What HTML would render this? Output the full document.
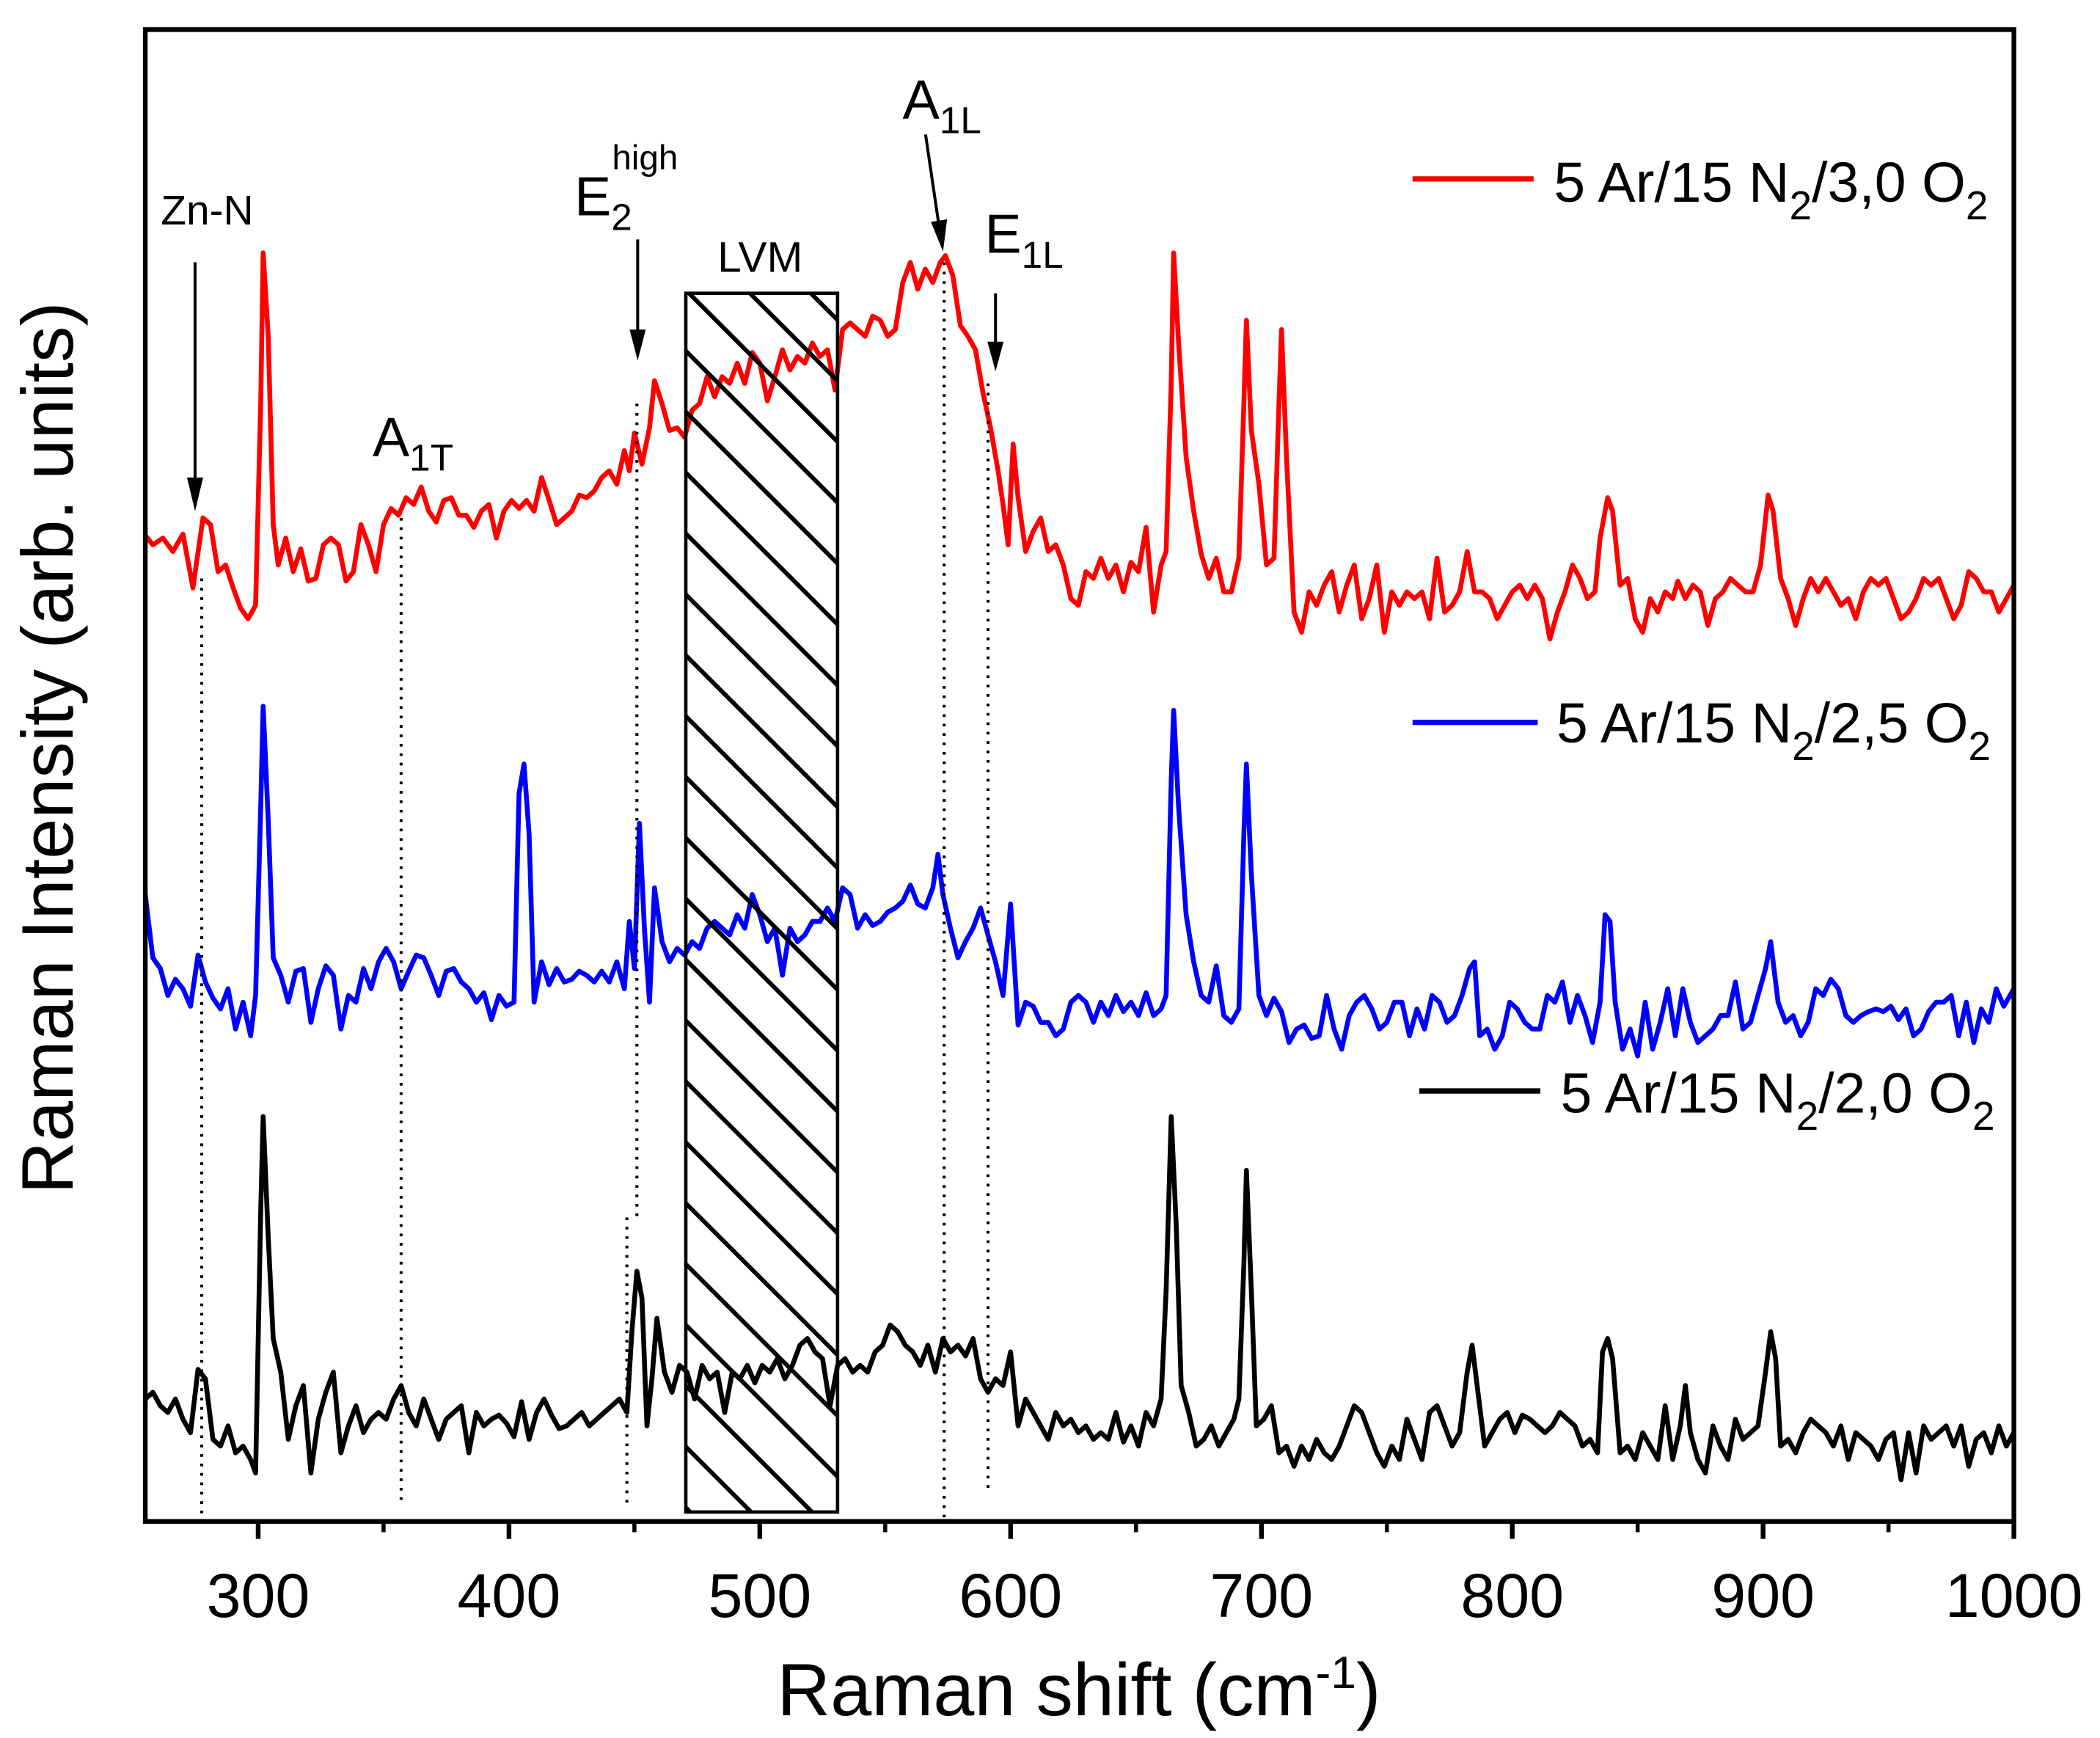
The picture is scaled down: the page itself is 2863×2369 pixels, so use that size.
<!DOCTYPE html>
<html><head><meta charset="utf-8"><style>
html,body{margin:0;padding:0;background:#fff;}
svg{display:block;font-family:"Liberation Sans",Arial,sans-serif;}
</style></head><body>
<svg id="chart" width="2863" height="2369" viewBox="0 0 1561 1292" preserveAspectRatio="none" xmlns="http://www.w3.org/2000/svg">
<defs>
<pattern id="hatch" patternUnits="userSpaceOnUse" width="32" height="32" patternTransform="rotate(-45)">
<line x1="0" y1="0" x2="0" y2="32" stroke="#000" stroke-width="3.2" transform="translate(16,0)"/>
</pattern>
<clipPath id="plotclip"><rect x="108" y="22" width="1389" height="1109"/></clipPath>
</defs>
<g id="series" clip-path="url(#plotclip)"></g>
<g id="annot"></g>
</svg>
<script>
const xDomain = [255, 1000];
const yDomain = [0, 1109];
const xTicksMajor = [300, 400, 500, 600, 700, 800, 900, 1000];
const xTicksMinor = [350, 450, 550, 650, 750, 850, 950];
const seriesNames = ["5 Ar/15 N2/3,0 O2", "5 Ar/15 N2/2,5 O2", "5 Ar/15 N2/2,0 O2"];
const redData = [[255,733],[258,726],[262,731],[266,721],[270,734],[274,694],[278,746],[281,741],[284,706],[287,711],[290,694],[293,679],[296,671],[299,681],[301,831],[302,943],[304,881],[306,741],[308,711],[311,731],[314,706],[317,723],[320,699],[323,701],[326,726],[329,731],[332,726],[335,699],[338,706],[341,741],[344,726],[347,706],[350,741],[353,753],[356,748],[359,761],[362,756],[365,769],[368,751],[371,743],[374,759],[377,761],[380,748],[383,748],[386,739],[389,751],[392,756],[395,731],[398,751],[401,759],[404,753],[407,759],[410,751],[413,776],[416,759],[419,741],[422,746],[425,751],[428,763],[431,761],[434,766],[437,776],[440,781],[443,771],[446,796],[448,781],[450,809],[453,786],[456,813],[458,848],[461,831],[464,811],[467,813],[470,806],[473,826],[476,831],[479,851],[482,836],[485,851],[488,846],[491,861],[494,846],[497,869],[500,861],[503,833],[506,851],[509,871],[512,856],[515,866],[518,861],[521,876],[524,866],[527,871],[530,841],[533,886],[536,891],[539,886],[542,881],[545,896],[548,893],[551,881],[554,886],[557,921],[560,936],[563,916],[566,931],[569,921],[572,936],[574,941],[577,926],[580,889],[583,881],[586,871],[589,839],[592,813],[595,781],[597,756],[599,726],[601,801],[603,761],[606,721],[609,736],[612,746],[615,721],[618,726],[621,711],[624,686],[627,681],[630,706],[633,701],[636,716],[639,701],[642,711],[645,691],[648,713],[651,706],[654,739],[657,676],[660,711],[662,721],[664,846],[665,943],[667,876],[670,791],[673,751],[676,719],[679,701],[682,716],[685,691],[688,691],[691,716],[693,831],[694,893],[696,811],[699,771],[702,711],[705,716],[707,831],[708,886],[710,791],[713,676],[716,661],[719,691],[722,681],[725,696],[728,706],[731,676],[734,696],[737,711],[740,671],[743,686],[746,711],[749,661],[752,691],[755,681],[758,691],[761,686],[764,691],[767,671],[770,716],[773,676],[776,681],[779,691],[782,721],[785,691],[788,691],[791,686],[794,671],[797,681],[800,691],[803,696],[806,686],[809,696],[812,686],[815,656],[818,676],[821,691],[824,711],[827,701],[830,686],[833,691],[835,731],[838,761],[840,751],[843,696],[846,701],[849,671],[852,661],[855,686],[858,676],[861,691],[864,686],[866,699],[869,686],[872,696],[875,691],[878,666],[881,686],[884,691],[887,701],[890,696],[893,691],[896,691],[899,711],[902,763],[904,751],[907,701],[910,686],[913,666],[916,686],[919,701],[922,691],[925,701],[928,691],[931,681],[934,686],[937,671],[940,691],[943,701],[946,696],[949,701],[952,686],[955,671],[958,676],[961,686],[964,701],[967,696],[970,701],[973,686],[976,671],[979,681],[982,706],[985,701],[988,691],[991,691],[994,676],[997,686],[1000,696]];
const blueData = [[255,466],[258,419],[261,411],[264,391],[267,403],[270,396],[273,383],[276,421],[279,401],[282,389],[285,381],[288,396],[291,366],[294,386],[297,361],[299,391],[301,531],[302,606],[304,521],[306,419],[309,406],[312,386],[315,409],[318,411],[321,371],[324,396],[327,413],[330,406],[333,366],[336,391],[339,386],[342,411],[345,396],[348,416],[351,426],[354,416],[357,396],[360,409],[363,421],[366,419],[369,406],[372,391],[375,409],[378,411],[381,401],[384,396],[387,386],[390,393],[393,373],[396,391],[399,383],[402,386],[404,541],[406,563],[408,511],[410,386],[413,416],[416,399],[419,411],[422,401],[425,403],[428,409],[431,406],[434,401],[437,409],[440,401],[443,416],[446,396],[448,446],[450,411],[452,519],[454,441],[456,386],[458,471],[461,431],[464,416],[467,426],[470,421],[473,431],[476,426],[479,441],[482,446],[485,441],[488,436],[491,451],[494,441],[497,466],[500,451],[503,431],[506,441],[509,406],[512,441],[515,431],[518,436],[521,446],[524,446],[527,456],[530,446],[533,471],[536,466],[539,441],[542,451],[545,443],[548,446],[551,453],[554,456],[557,461],[560,473],[563,459],[566,456],[569,471],[571,496],[573,466],[576,441],[579,419],[582,431],[585,441],[588,456],[591,436],[594,416],[597,391],[600,459],[603,369],[606,386],[609,383],[612,371],[615,371],[618,361],[621,366],[624,386],[627,391],[630,386],[633,371],[636,386],[639,376],[642,391],[645,379],[648,386],[651,376],[654,393],[657,376],[660,381],[662,391],[664,551],[665,603],[667,531],[670,451],[673,416],[676,391],[679,386],[682,413],[685,376],[688,371],[691,381],[693,511],[694,563],[696,481],[699,391],[702,376],[705,389],[708,379],[711,356],[714,366],[717,369],[720,359],[723,361],[726,391],[729,366],[732,351],[735,376],[738,386],[741,391],[744,381],[747,366],[750,371],[753,386],[756,386],[759,361],[762,381],[765,366],[768,391],[771,386],[774,371],[777,376],[780,391],[783,411],[785,416],[787,361],[790,366],[793,351],[796,361],[799,386],[802,381],[805,371],[808,366],[811,366],[814,391],[817,386],[820,401],[823,371],[826,391],[829,376],[832,356],[835,386],[837,451],[839,446],[841,386],[844,351],[847,366],[850,346],[853,386],[856,351],[859,371],[862,396],[865,361],[868,396],[871,371],[874,356],[877,361],[880,366],[883,376],[886,376],[889,401],[892,366],[895,371],[898,391],[901,411],[903,431],[906,386],[909,371],[912,376],[915,361],[918,371],[921,396],[924,391],[927,403],[930,396],[933,376],[936,371],[939,376],[942,379],[945,381],[948,379],[951,383],[954,373],[957,381],[960,361],[963,366],[966,379],[969,386],[972,386],[975,391],[978,361],[981,386],[984,356],[987,381],[990,371],[993,396],[996,383],[1000,396]];
const blackData = [[255,91],[258,96],[261,86],[264,81],[267,91],[270,76],[273,66],[276,113],[279,106],[282,61],[285,56],[288,71],[291,51],[294,56],[297,46],[299,36],[301,231],[302,301],[304,211],[306,136],[309,111],[312,61],[315,86],[318,101],[321,36],[324,76],[327,96],[330,111],[333,51],[336,71],[339,86],[342,66],[345,76],[348,81],[351,76],[354,91],[357,101],[360,81],[363,71],[366,91],[369,76],[372,61],[375,76],[378,81],[381,86],[384,51],[387,81],[390,71],[393,76],[396,79],[399,73],[402,63],[405,89],[408,61],[411,81],[414,91],[417,79],[420,69],[423,71],[426,76],[429,81],[432,71],[435,76],[438,81],[441,86],[444,91],[447,81],[449,141],[451,186],[453,166],[455,71],[457,106],[459,151],[462,111],[465,96],[468,116],[471,111],[474,91],[477,116],[480,106],[483,111],[486,81],[489,111],[492,106],[495,116],[498,103],[501,116],[504,111],[507,121],[510,106],[513,116],[516,131],[519,136],[522,126],[525,121],[528,86],[531,116],[534,121],[537,111],[540,116],[543,111],[546,126],[549,131],[552,146],[555,141],[558,131],[561,126],[564,116],[567,131],[570,111],[573,136],[576,126],[579,131],[582,123],[585,136],[588,106],[591,96],[594,106],[597,101],[600,126],[603,71],[606,91],[609,81],[612,71],[615,61],[618,81],[621,71],[624,76],[627,66],[630,71],[633,61],[636,66],[639,61],[642,81],[645,59],[648,71],[651,56],[654,81],[657,71],[660,91],[662,171],[664,301],[666,221],[668,101],[671,81],[674,56],[677,61],[680,71],[683,56],[686,66],[689,76],[691,91],[693,191],[694,261],[696,171],[698,71],[701,76],[704,86],[707,51],[710,56],[713,41],[716,56],[719,46],[722,61],[725,51],[728,46],[731,56],[734,71],[737,86],[740,81],[743,66],[746,51],[749,41],[752,56],[755,46],[758,76],[761,61],[764,46],[767,81],[770,86],[773,71],[776,56],[779,66],[782,111],[784,131],[786,101],[789,56],[792,66],[795,76],[798,81],[801,66],[804,79],[807,76],[810,71],[813,66],[816,71],[819,81],[822,76],[825,71],[828,56],[831,61],[834,51],[836,126],[838,136],[840,121],[843,51],[846,56],[849,46],[852,66],[855,56],[858,46],[861,86],[864,46],[867,71],[869,101],[871,66],[874,46],[877,36],[880,71],[883,56],[886,46],[889,76],[892,61],[895,66],[898,71],[901,111],[903,141],[905,121],[907,56],[910,61],[913,51],[916,66],[919,76],[922,71],[925,66],[928,56],[931,71],[934,46],[937,66],[940,61],[943,56],[946,46],[949,61],[952,66],[955,31],[958,66],[961,36],[964,71],[967,61],[970,66],[973,71],[976,56],[979,71],[982,41],[985,61],[988,66],[991,51],[994,71],[997,56],[1000,66]];
const lvmRange = [470.5, 531];
const modeLines = [277.5, 357, 451, 447, 573.5, 591];

const NS = "http://www.w3.org/2000/svg";
const L = 108, R = 1497, T = 22, B = 1131;
function xs(v){ return L + (v - xDomain[0]) / (xDomain[1] - xDomain[0]) * (R - L); }
function ys(v){ return B - (v - yDomain[0]) / (yDomain[1] - yDomain[0]) * (B - T); }
function mk(tag, attrs, parent){
  const e = document.createElementNS(NS, tag);
  for (const k in attrs) e.setAttribute(k, attrs[k]);
  parent.appendChild(e);
  return e;
}
const svg = document.getElementById("chart");
const sg = document.getElementById("series");
const ag = document.getElementById("annot");

const box = mk("rect", {x: xs(lvmRange[0]), y: 218, width: xs(lvmRange[1]) - xs(lvmRange[0]), height: 1124 - 218, fill: "url(#hatch)", stroke: "#000", "stroke-width": 2.5}, ag);



const dotSpans = [[430, 1131], [385, 1120], [300, 905], [905, 1120], [195, 1131], [285, 1110]];
modeLines.forEach((m, i) => {
  const ln = mk("line", {x1: xs(m), x2: xs(m), y1: dotSpans[i][0], y2: dotSpans[i][1], stroke: "#000", "stroke-width": 2.2, "stroke-dasharray": "2,5"}, ag);
  
  
});

const series = [[redData, "#ff0000", "red-spectrum"], [blueData, "#0000ff", "blue-spectrum"], [blackData, "#000000", "black-spectrum"]];
series.forEach(s => {
  const d = s[0].map((p, i) => (i ? "L" : "M") + xs(p[0]).toFixed(1) + " " + ys(p[1]).toFixed(1)).join(" ");
  const path = mk("path", {d: d, fill: "none", stroke: s[1], "stroke-width": 3.6, "stroke-linejoin": "round"}, sg);
  
  
});

const frame = mk("rect", {x: L, y: T, width: R - L, height: B - T, fill: "none", stroke: "#000", "stroke-width": 3.5}, svg);



xTicksMajor.forEach(t => {
  const tk = mk("line", {x1: xs(t), x2: xs(t), y1: B, y2: B + 13, stroke: "#000", "stroke-width": 3.5}, svg);
  
  
  const lb = mk("text", {x: xs(t), y: 1202, "font-size": 46, "text-anchor": "middle"}, svg);
  lb.textContent = t;
  
  
});
xTicksMinor.forEach(t => {
  const tk = mk("line", {x1: xs(t), x2: xs(t), y1: B, y2: B + 8, stroke: "#000", "stroke-width": 3}, svg);
  
  
});
</script>
<script>
(function(){
const svg = document.getElementById("chart");
function add(html){ svg.insertAdjacentHTML("beforeend", html); }
add('<text x="802" y="1275" font-size="55" text-anchor="middle">Raman shift (cm<tspan dy="-20" font-size="34">-1</tspan><tspan dy="20">)</tspan></text>');
add('<text transform="translate(54,556) rotate(-90)" font-size="54" text-anchor="middle">Raman Intensity (arb. units)</text>');
add('<line x1="1050" x2="1140" y1="133" y2="133" stroke="#ff0000" stroke-width="4"/>');
add('<text x="1155" y="150" font-size="42">5 Ar/15 N<tspan dy="13" font-size="30">2</tspan><tspan dy="-13">/3,0 O</tspan><tspan dy="13" font-size="30">2</tspan></text>');
add('<line x1="1050" x2="1143" y1="537" y2="537" stroke="#0000ff" stroke-width="4"/>');
add('<text x="1157" y="552" font-size="42">5 Ar/15 N<tspan dy="13" font-size="30">2</tspan><tspan dy="-13">/2,5 O</tspan><tspan dy="13" font-size="30">2</tspan></text>');
add('<line x1="1055" x2="1145" y1="811" y2="811" stroke="#000" stroke-width="4"/>');
add('<text x="1160" y="827" font-size="42">5 Ar/15 N<tspan dy="13" font-size="30">2</tspan><tspan dy="-13">/2,0 O</tspan><tspan dy="13" font-size="30">2</tspan></text>');
add('<text x="154" y="167" font-size="31" text-anchor="middle">Zn-N</text>');
add('<line x1="145" y1="195" x2="145" y2="360" stroke="#000" stroke-width="2.2"/><polygon points="139,355 151,355 145,380" fill="#000"/>');
add('<text x="277" y="339" font-size="41">A<tspan dy="11" font-size="28">1T</tspan></text>');
add('<text x="427" y="160" font-size="41">E<tspan dy="11" font-size="28">2</tspan><tspan dx="-15" dy="-45" font-size="26">high</tspan></text>');
add('<line x1="474" y1="178" x2="474" y2="250" stroke="#000" stroke-width="2.2"/><polygon points="468,245 480,245 474,268" fill="#000"/>');
add('<text x="565" y="202" font-size="32" text-anchor="middle">LVM</text>');
add('<text x="671" y="88" font-size="41">A<tspan dy="11" font-size="28">1L</tspan></text>');
add('<line x1="688" y1="100" x2="698" y2="168" stroke="#000" stroke-width="2.2"/><polygon points="692,165 704,163 701,187" fill="#000"/>');
add('<text x="732" y="188" font-size="41">E<tspan dy="11" font-size="28">1L</tspan></text>');
add('<line x1="740" y1="218" x2="740" y2="258" stroke="#000" stroke-width="2.2"/><polygon points="734,254 746,254 740,276" fill="#000"/>');
})();
</script>
</body></html>
